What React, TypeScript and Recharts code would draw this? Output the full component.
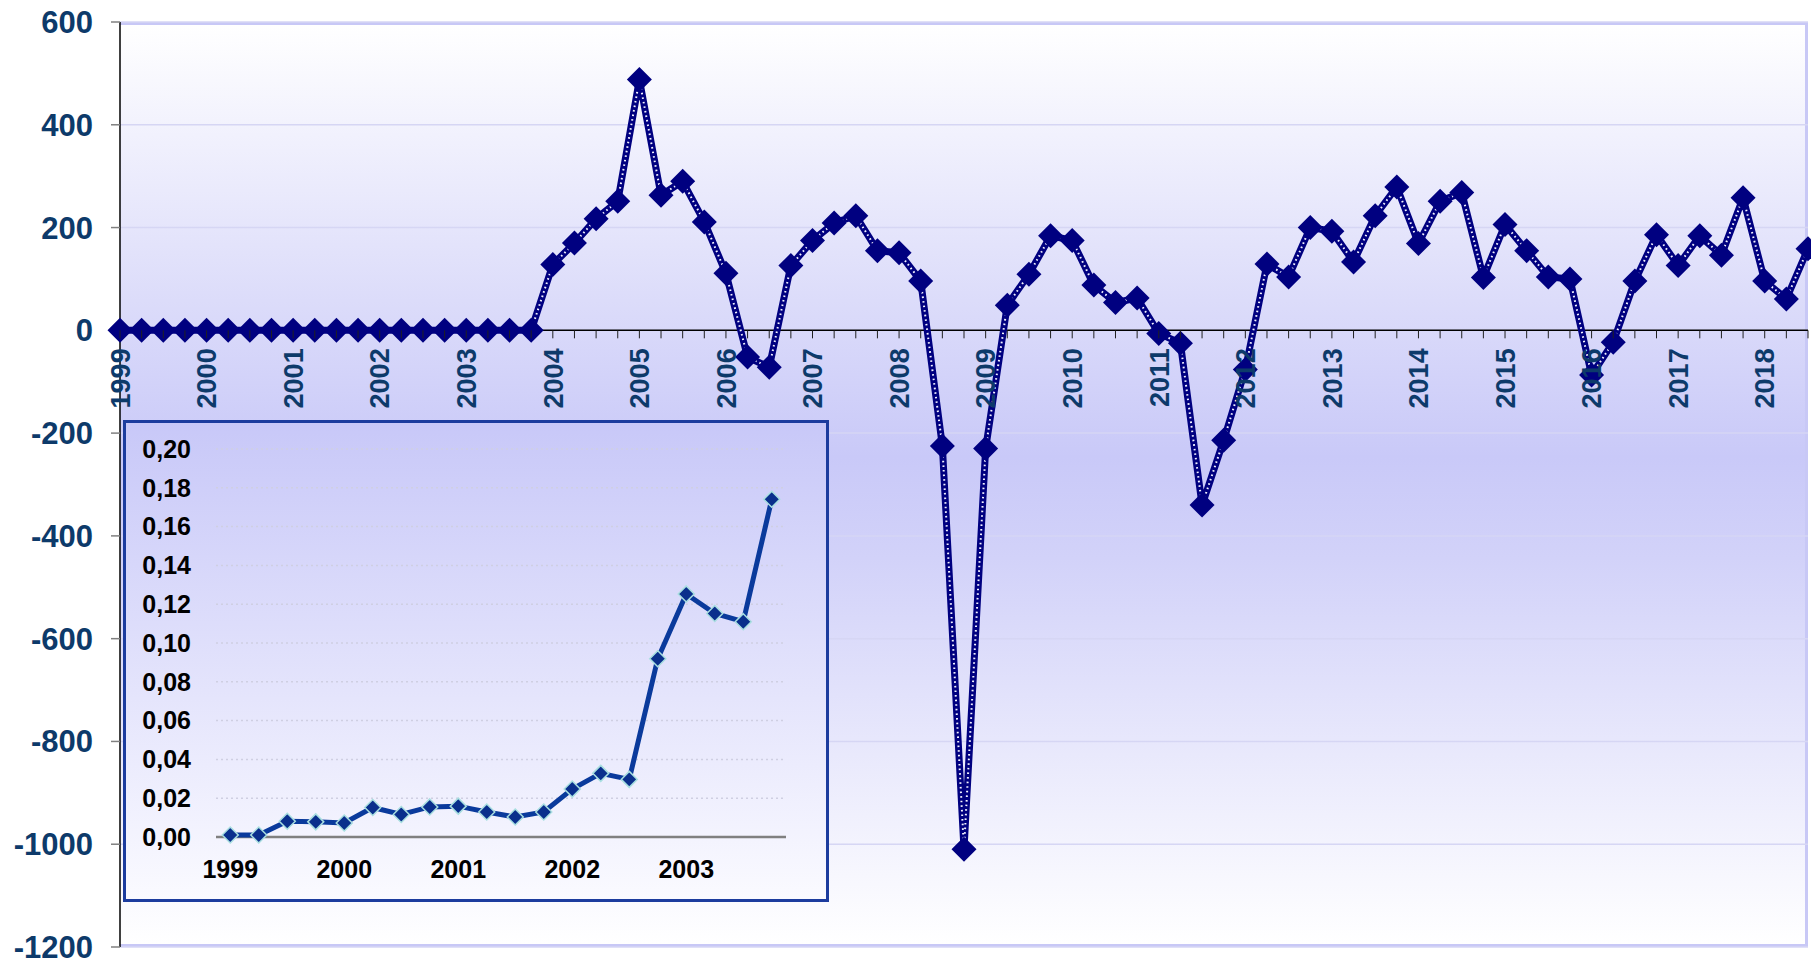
import React from 'react';
import { LineChart, Line, XAxis, YAxis, CartesianGrid, ReferenceLine } from 'recharts';

// ---------- data ----------
const years = ['1999', '2000', '2001', '2002', '2003', '2004', '2005', '2006', '2007', '2008', '2009', '2010', '2011', '2012', '2013', '2014', '2015', '2016', '2017', '2018'];
const quarters = ['Q1', 'Q2', 'Q3', 'Q4'];

// main series, quarterly 1999 Q1 .. 2018 Q3
const mainValues = [
  0, 0, 0, 0, 0, 0, 0, 0, 0, 0, 0, 0, 0, 0, 0, 0, 0, 0, 0, 0,
  128, 170, 217, 251,
  488, 263, 290, 211,
  111, -52, -72, 126,
  175, 209, 223, 155,
  151, 96, -225, -1010,
  -230, 49, 109, 184,
  175, 88, 54, 63,
  -6, -25, -340, -214,
  -76, 129, 104, 200,
  193, 133, 223, 279,
  169, 251, 268, 103,
  206, 155, 104, 100,
  -87, -23, 96, 186,
  126, 184, 146, 258,
  96, 61, 159,
];

// inset series, quarterly 1999 Q1 .. 2003 Q4
const insetValues = [
  0.001, 0.001, 0.0081, 0.0078,
  0.0072, 0.0152, 0.0116, 0.0155,
  0.0159, 0.0129, 0.0103, 0.0129,
  0.0247, 0.0328, 0.0297, 0.0919,
  0.1253, 0.1152, 0.111, 0.1741,
];

const mainTicks = [600, 400, 200, 0, -200, -400, -600, -800, -1000, -1200];
const insetTicks = [0, 0.02, 0.04, 0.06, 0.08, 0.1, 0.12, 0.14, 0.16, 0.18, 0.2];

const categories = years.flatMap((y) => quarters.map((q) => `${y} ${q}`));
const mainData = mainValues.map((v, i) => ({ q: categories[i], v }));
const insetData = insetValues.map((v, i) => ({ q: categories[i], v }));

// ---------- layout / style ----------
const W = 1811;
const H = 959;
const M = { top: 22, right: 3, bottom: 11, left: 0 };
const Y_AXIS_W = 120;
const X_AXIS_H = 1;
const Y_MIN = -1200;
const Y_MAX = 600;
const PLOT_H = H - M.top - M.bottom - X_AXIS_H;
const ZERO_FROM_BOTTOM = (PLOT_H * (0 - Y_MIN)) / (Y_MAX - Y_MIN);

const FONT = "'Liberation Sans', Arial, sans-serif";
const AXIS_BLUE = '#0d3a6a';
const NAVY = '#000080';

const MainXTick = (props: any) => {
  const { x, y, payload } = props;
  const y0 = y - ZERO_FROM_BOTTOM;
  const label = String(payload.value);
  const isYear = label.endsWith('Q1');
  return (
    <g>
      <line x1={x} x2={x} y1={y0} y2={y0 + 8} stroke="#202020" strokeWidth={1} />
      {isYear && (
        <text
          transform={`translate(${x},${y0 + 18}) rotate(-90)`}
          textAnchor="end"
          dy="0.36em"
          fill={AXIS_BLUE}
          fontSize={27}
          fontWeight="bold"
          fontFamily={FONT}
        >
          {label.slice(0, 4)}
        </text>
      )}
    </g>
  );
};

const mainDiamond = (props: any) => {
  const { cx, cy, index } = props;
  if (cx == null || cy == null) return <g key={`md${index}`} />;
  const r = 12.5;
  return (
    <path
      key={`md${index}`}
      d={`M${cx},${cy - r}L${cx + r},${cy}L${cx},${cy + r}L${cx - r},${cy}Z`}
      fill={NAVY}
    />
  );
};

const insetDiamond = (props: any) => {
  const { cx, cy, index } = props;
  if (cx == null || cy == null) return <g key={`id${index}`} />;
  const r = 8;
  return (
    <path
      key={`id${index}`}
      d={`M${cx},${cy - r}L${cx + r},${cy}L${cx},${cy + r}L${cx - r},${cy}Z`}
      fill="#0a2f8c"
      stroke="#a9dfe0"
      strokeWidth={1.5}
    />
  );
};

export default function App() {
  const plotLeft = M.left + Y_AXIS_W;
  const plotRight = W - M.right;
  return (
    <div style={{ position: 'absolute', left: 0, top: 0, width: W, height: H, background: '#ffffff' }}>
      {/* plot-area background */}
      <div
        style={{
          position: 'absolute',
          left: plotLeft,
          top: M.top,
          width: plotRight - plotLeft,
          height: PLOT_H,
          boxSizing: 'border-box',
          background: 'linear-gradient(#ffffff 0%, #dcdcfa 30%, #c9c9f8 47%, #d2d2f9 58%, #ffffff 100%)',
          borderTop: '3px solid #c8c8f6',
          borderRight: '3px solid #c8c8f6',
          borderBottom: '3px solid #c8c8f6',
        }}
      />
      <div style={{ position: 'absolute', left: 0, top: 0 }}>
        <LineChart width={W} height={H} data={mainData} margin={M}>
          <CartesianGrid vertical={false} stroke="#d6d6f4" strokeWidth={1.5} />
          <XAxis
            dataKey="q"
            interval={0}
            height={X_AXIS_H}
            tickSize={0}
            tickMargin={0}
            axisLine={false}
            tickLine={false}
            tick={<MainXTick />}
          />
          <YAxis
            type="number"
            domain={[Y_MIN, Y_MAX]}
            ticks={mainTicks}
            interval={0}
            width={Y_AXIS_W}
            tickSize={9}
            tickMargin={18}
            tickLine={{ stroke: '#808080', strokeWidth: 1.5 }}
            axisLine={{ stroke: '#000000', strokeWidth: 1.5 }}
            tick={{ fill: AXIS_BLUE, fontSize: 31, fontWeight: 'bold', fontFamily: FONT }}
          />
          <ReferenceLine y={0} stroke="#000000" strokeWidth={1.5} />
          <Line dataKey="v" stroke={NAVY} strokeWidth={7} strokeLinejoin="round" dot={false} isAnimationActive={false} />
          <Line
            dataKey="v"
            stroke="#f4f4ff"
            strokeWidth={2}
            strokeDasharray="1.6 3"
            dot={false}
            activeDot={false}
            isAnimationActive={false}
          />
          <Line dataKey="v" stroke="none" dot={mainDiamond} activeDot={false} isAnimationActive={false} />
        </LineChart>
      </div>

      {/* inset chart */}
      <div
        style={{
          position: 'absolute',
          left: 123,
          top: 420,
          width: 706,
          height: 482,
          boxSizing: 'border-box',
          border: '3px solid #1c3c9e',
          background: 'linear-gradient(#c8c8f8 0%, #fafaff 100%)',
        }}
      >
        <LineChart width={700} height={476} data={insetData} margin={{ top: 26, right: 40, bottom: 0, left: 0 }}>
          <CartesianGrid vertical={false} stroke="#cfcfe2" strokeWidth={1.5} strokeDasharray="2 3" />
          <XAxis
            dataKey="q"
            scale="band"
            interval={3}
            height={62}
            tickSize={0}
            tickMargin={23}
            axisLine={false}
            tickLine={false}
            tickFormatter={(v: string) => String(v).slice(0, 4)}
            tick={{ fill: '#000000', fontSize: 25, fontWeight: 'bold', fontFamily: FONT }}
          />
          <YAxis
            type="number"
            domain={[0, 0.2]}
            ticks={insetTicks}
            interval={0}
            width={90}
            tickSize={0}
            tickMargin={25}
            axisLine={false}
            tickLine={false}
            tickFormatter={(v: number) => v.toFixed(2).replace('.', ',')}
            tick={{ fill: '#000000', fontSize: 25, fontWeight: 'bold', fontFamily: FONT }}
          />
          <ReferenceLine y={0} stroke="#808080" strokeWidth={2.5} />
          <Line dataKey="v" stroke="#0a3a9c" strokeWidth={5} dot={insetDiamond} activeDot={false} isAnimationActive={false} />
        </LineChart>
      </div>
    </div>
  );
}
